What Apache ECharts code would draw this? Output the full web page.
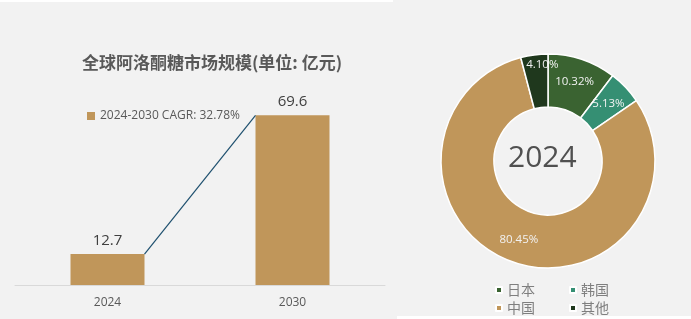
<!DOCTYPE html>
<html><head><meta charset="utf-8">
<script src="https://cdn.jsdelivr.net/npm/echarts@6/dist/echarts.min.js"></script>
<style>html,body{margin:0;padding:0;background:#f2f2f2}#c{width:691px;height:319px}</style>
</head><body><div id="c"></div>
<script>
const title = '全球阿洛酮糖市场规模(单位: 亿元)';
const years = ['2024', '2030'];
const marketValues = [12.7, 69.6];
const cagrLabel = '2024-2030 CAGR: 32.78%';
const pieYear = '2024';
const regions = ['日本', '韩国', '中国', '其他'];
const shares = [10.32, 5.13, 80.45, 4.10];
const regionColors = ['#3a6331', '#358f73', '#c0965a', '#1f381d'];
const barColor = '#c0965a';
const fontCN = '"Noto Sans CJK SC", "Noto Sans", sans-serif';

const chart = echarts.init(document.getElementById('c'), null, {renderer: 'canvas'});
chart.setOption({
  animation: false,
  backgroundColor: '#f2f2f2',
  textStyle: {fontFamily: fontCN},
  graphic: [
    {type: 'rect', shape: {x: 0, y: 0, width: 393, height: 2}, style: {fill: '#ffffff'}, silent: true},
    {type: 'rect', shape: {x: 397, y: 316, width: 294, height: 3}, style: {fill: '#ffffff'}, silent: true},
    {type: 'text', left: 548 - 40, top: 143, style: {text: pieYear, font: '30px "Open Sans", "Noto Sans", sans-serif', fill: '#505050', width: 80, align: 'center'}, z: 10}
  ],
  title: {
    text: title, left: 207, top: 49, textAlign: 'center',
    textStyle: {fontFamily: fontCN, fontSize: 17, fontWeight: 'bold', color: '#595959'}
  },
  legend: [
    {data: [cagrLabel], left: 82, top: 105, icon: 'rect', itemWidth: 8, itemHeight: 8, itemGap: 5,
     textStyle: {color: '#595959', fontSize: 12, fontFamily: '"Open Sans", "Noto Sans", sans-serif'}},
    {data: regions.slice(0, 2), left: 490, top: 278, icon: 'rect', itemWidth: 6, itemHeight: 6, itemGap: 34,
     textStyle: {color: '#7f7f7f', fontSize: 14, fontFamily: fontCN}},
    {data: regions.slice(2, 4), left: 490, top: 296, icon: 'rect', itemWidth: 6, itemHeight: 6, itemGap: 34,
     textStyle: {color: '#7f7f7f', fontSize: 14, fontFamily: fontCN}}
  ],
  grid: {left: 15, right: 306, top: 90, bottom: 34, containLabel: false},
  xAxis: {
    type: 'category', data: years,
    axisLine: {lineStyle: {color: '#d9d9d9', width: 1}},
    axisTick: {show: false},
    axisLabel: {color: '#595959', fontSize: 12, margin: 12, fontFamily: '"Open Sans", "Noto Sans", sans-serif'}
  },
  yAxis: {type: 'value', min: 0, max: 80, show: false, splitLine: {show: false}},
  series: [
    {
      name: cagrLabel, type: 'bar', data: marketValues, barWidth: '40%',
      itemStyle: {color: barColor},
      label: {show: true, position: 'top', distance: 6, color: '#404040', fontSize: 15,
              fontFamily: '"Open Sans", "Noto Sans", sans-serif'}
    },
    {
      type: 'custom', data: [[0, marketValues[0], 1, marketValues[1]]], z: 3,
      renderItem: function (params, api) {
        const p1 = api.coord([api.value(0), api.value(1)]);
        const p2 = api.coord([api.value(2), api.value(3)]);
        const band = api.size([1, 0])[0];
        return {
          type: 'line',
          shape: {x1: p1[0] + band * 0.2, y1: p1[1], x2: p2[0] - band * 0.2, y2: p2[1]},
          style: {stroke: '#1d4f6e', lineWidth: 1.2}
        };
      }
    },
    {
      type: 'pie', center: [548, 161], radius: [54, 107], startAngle: 90, clockwise: true,
      silent: true, minShowLabelAngle: 0, avoidLabelOverlap: false,
      itemStyle: {borderColor: '#ffffff', borderWidth: 1.5},
      label: {show: true, position: 'inside', color: '#f2f2f2', fontSize: 11.5,
              fontFamily: '"Open Sans", "Noto Sans", sans-serif',
              formatter: function (p) { return p.value.toFixed(2) + '%'; }},
      labelLayout: {hideOverlap: false},
      labelLine: {show: false},
      emphasis: {disabled: true},
      data: regions.map(function (r, i) {
        const d = {name: r, value: shares[i], itemStyle: {color: regionColors[i]}};
        if (i === 3) d.label = {offset: [5, -13]};
        return d;
      })
    }
  ]
});
</script></body></html>
